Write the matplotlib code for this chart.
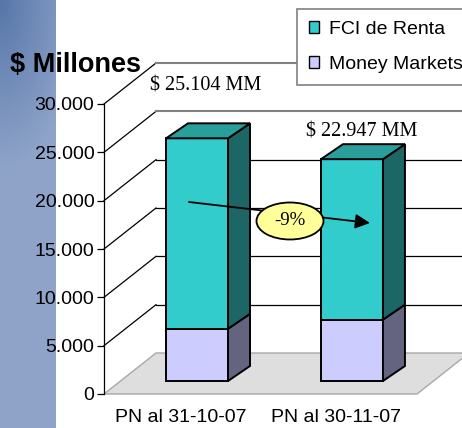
import numpy as np
import matplotlib
matplotlib.use('Agg')
import matplotlib.pyplot as plt
from matplotlib.patches import Patch, Polygon, Ellipse
from matplotlib.lines import Line2D
from matplotlib.transforms import IdentityTransform, ScaledTranslation

plt.rcParams['font.family'] = ['Liberation Sans', 'DejaVu Sans']

# datos
categorias = ['PN al 31-10-07', 'PN al 30-11-07']
series = ['FCI de Renta', 'Money Markets']
money_markets = [5400, 6350]
fci_renta = [19704, 16597]
totales = ['$ 25.104 MM', '$ 22.947 MM']
variacion = '-9%'
y_ticks = [0, 5000, 10000, 15000, 20000, 25000, 30000]
y_labels = ['0', '5.000', '10.000', '15.000', '20.000', '25.000', '30.000']

W, H = 462, 428
DPI = 100
fig = plt.figure(figsize=(W / DPI, H / DPI), dpi=DPI)
fig.patch.set_facecolor('white')

# franja azul de la izquierda
bg = fig.add_axes([0, 0, 56 / W, 1], zorder=-5)
yy, xx = np.mgrid[0:H, 0:56]
t = np.clip(np.hypot(xx / 80.0, yy / 170.0), 0, 1)
c0 = np.array([0x56, 0x76, 0xa9]) / 255
c1 = np.array([0x8f, 0xa4, 0xc9]) / 255
bg.imshow(c0 + (c1 - c0) * t[..., None], aspect='auto', extent=(0, 1, 0, 1), origin='upper')
bg.axis('off')

ax = fig.add_axes([104 / W, (H - 394) / H, (417 - 104) / W, 290 / H])
ax.set_xlim(-0.497, 1.523)
ax.set_ylim(0, 30000)
ax.patch.set_visible(False)
for s in ['top', 'right', 'bottom']:
    ax.spines[s].set_visible(False)
ax.spines['left'].set_linewidth(0.9)
ax.set_yticks(y_ticks, y_labels)
ax.set_xticks([0, 1], categorias)
ax.tick_params(axis='y', length=5, width=0.9, pad=2, labelsize=14)
ax.tick_params(axis='x', length=0, pad=11, labelsize=14)

prof = np.array([52, 41])    # fondo del grafico
lado = np.array([22, 15])    # profundidad de cada barra
ancho = 0.4
tr_bar = ax.transData + ScaledTranslation(16 / DPI, 13 / DPI, fig.dpi_scale_trans)
ident = IdentityTransform()


def px(x, v, tr=ax.transData):
    return np.array(tr.transform((x, v)))


def poly(pts, **kw):
    p = Polygon(pts, closed=True, transform=ident, clip_on=False, **kw)
    ax.add_patch(p)


x0, x1 = ax.get_xlim()

# piso
a = px(x0, 0)
b = px(x1, 0)
poly([a, b, b + prof, a + prof], fc='#dedede', ec='#a8a8a8', lw=1, zorder=1)

# grilla (pared lateral y fondo)
for v in y_ticks[1:]:
    p = px(x0, v)
    q = p + prof
    r = px(x1, v) + prof
    ax.add_line(Line2D([p[0], q[0]], [p[1], q[1]], transform=ident, color='black',
                       lw=0.9, clip_on=False, zorder=0.5))
    gris = v >= 25000
    ax.add_line(Line2D([q[0], r[0]], [q[1], r[1]], transform=ident,
                       color='#808080' if gris else 'black', lw=1.5 if gris else 0.9,
                       clip_on=False, zorder=0.5))

# barras
xs = np.arange(len(categorias))
ax.bar(xs, money_markets, width=ancho, color='#CCCCFF', ec='black', lw=1.4,
       transform=tr_bar, zorder=3)
ax.bar(xs, fci_renta, bottom=money_markets, width=ancho, color='#33CCCC', ec='black',
       lw=1.4, transform=tr_bar, zorder=3)

for i, c in enumerate(xs):
    tramos = [(0, money_markets[i], '#646480'),
              (money_markets[i], fci_renta[i], '#1C6666')]
    for base, alto, col in tramos:
        fb = px(c + ancho / 2, base, tr_bar)
        ft = px(c + ancho / 2, base + alto, tr_bar)
        poly([fb, ft, ft + lado, fb + lado], fc=col, ec='black', lw=1.4, zorder=3)
    top = money_markets[i] + fci_renta[i]
    fl = px(c - ancho / 2, top, tr_bar)
    fr = px(c + ancho / 2, top, tr_bar)
    poly([fl, fr, fr + lado, fl + lado], fc='#2A9E9A', ec='black', lw=1.4, zorder=3)

# totales
offs = [(9, 52), (10, 27)]
for i, c in enumerate(xs):
    top = money_markets[i] + fci_renta[i]
    ax.annotate(totales[i], xy=(c, top), xycoords=tr_bar, xytext=offs[i],
                textcoords='offset pixels', ha='center', va='center',
                family='Liberation Serif', fontsize=14.5, annotation_clip=False)

# flecha de variacion
ax.annotate('', xy=(1.116, 16345), xycoords=tr_bar, xytext=(-0.052, 18517),
            textcoords=tr_bar,
            arrowprops=dict(arrowstyle='-|>', color='black', lw=1.3, mutation_scale=22,
                            shrinkA=0, shrinkB=0), zorder=5)
ux = px(1, 0)[0] - px(0, 0)[0]
uy = px(0, 1000)[1] - px(0, 0)[1]
ax.add_patch(Ellipse((0.6, 16552), width=67 / ux, height=37 / uy * 1000, transform=tr_bar,
                     fc='#FFFF99', ec='black', lw=1.3, zorder=6, clip_on=False))
ax.text(0.6, 16552, variacion, transform=tr_bar, ha='center', va='center',
        family='Liberation Serif', fontsize=13.5, zorder=7)

# leyenda
handles = [Patch(fc='#33CCCC', ec='black', lw=1), Patch(fc='#CCCCFF', ec='black', lw=1)]
leg = fig.legend(handles, series, loc='upper left', bbox_to_anchor=(297 / W, 1 - 9 / H),
                 borderaxespad=0, fontsize=14, frameon=True, fancybox=False,
                 edgecolor='#808080', framealpha=1, handlelength=0.55, handleheight=0.55,
                 handletextpad=0.5, labelspacing=0.95, borderpad=0.6)
leg.get_frame().set_linewidth(1.2)

fig.text(10 / W, 1 - 65 / H, '$ Millones', fontsize=19.5, fontweight='bold',
         ha='left', va='center')

fig.savefig('out.png', dpi=DPI)
